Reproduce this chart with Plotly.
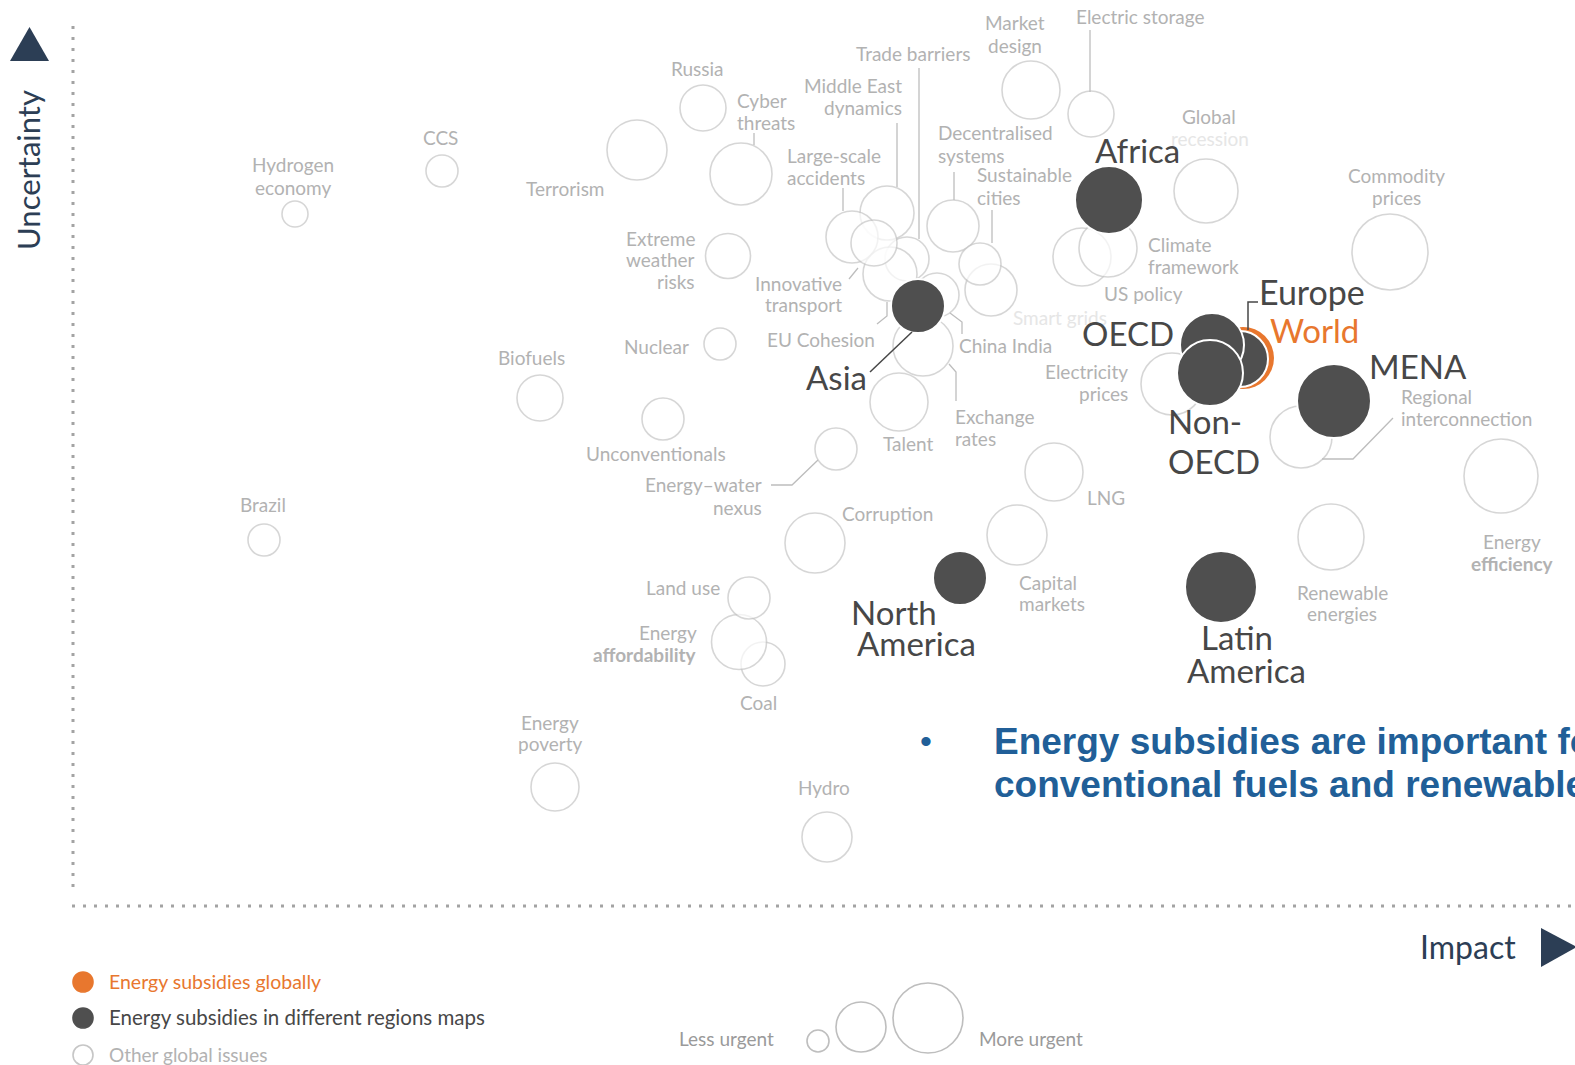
import plotly.graph_objects as go

# ---------------- data ----------------
# Other global issues: impact (x), uncertainty (y), urgency (bubble diameter)
issue_names = [
    "Hydrogen economy", "CCS", "Terrorism", "Russia", "Cyber threats",
    "Extreme weather risks", "Nuclear", "Biofuels", "Unconventionals",
    "Energy–water nexus", "Brazil", "Corruption", "Coal", "Energy affordability",
    "Land use", "Energy poverty", "Hydro", "Market design", "Electric storage",
    "Middle East dynamics", "Trade barriers", "EU Cohesion", "China India",
    "Large-scale accidents", "Innovative transport", "Exchange rates", "Talent",
    "Decentralised systems", "Smart grids", "Sustainable cities",
    "Global recession", "US policy", "Climate framework", "Commodity prices",
    "Electricity prices", "Regional interconnection", "Energy efficiency",
    "LNG", "Capital markets", "Renewable energies",
]
issue_impact = [
    223, 370, 565, 631, 669, 656, 648, 468, 591, 764, 192, 743, 691, 667,
    677, 483, 755, 959, 1019, 815, 835, 818, 865, 780, 802, 851, 827,
    881, 919, 908, 1134, 1010, 1036, 1318, 1100, 1229, 1429, 982, 945, 1259,
]
issue_uncertainty = [
    692, 735, 756, 798, 732, 650, 562, 508, 487, 457, 366, 363, 242, 264,
    308, 119, 69, 816, 792, 693, 647, 632, 611, 669, 663, 560, 504,
    680, 616, 642, 715, 649, 658, 654, 522, 469, 430, 434, 371, 369,
]
issue_urgency = [
    26, 32, 60, 46, 62, 45, 32, 46, 42, 42, 32, 60, 44, 55,
    42, 48, 50, 58, 46, 54, 44, 54, 44, 52, 46, 60, 58,
    52, 52, 42, 64, 58, 58, 76, 62, 62, 74, 58, 60, 66,
]

# Energy subsidies (world + regions)
region_names = ["World", "Europe", "OECD", "Non-OECD", "Asia", "Africa",
                "MENA", "North America", "Latin America"]
region_impact = [1171, 1168, 1140, 1138, 846, 1037, 1262, 888, 1149]
region_uncertainty = [548, 547, 561, 533, 600, 706, 505, 328, 319]
region_urgency = [62, 56, 64, 66, 54, 68, 74, 54, 72]

# Size key
size_key_urgency = [22, 50, 70]

# ---------------- styling / layout helpers ----------------
W, H = 1575, 1065
OX, OY = 72, 906  # pixel position of axes origin


def X(px):
    return px - OX


def Y(py):
    return OY - py


GREY_RING = "#c6c6c6"
GREY_TEXT = "#b2b2b2"
FAINT_TEXT = "#e6e6e6"
DARK = "#4f4f4f"
DARK_TEXT = "#474747"
ORANGE = "#e8772e"
NAVY = "#2c3e55"
BLUE = "#215f98"
FONT = "Lato"

fig = go.Figure()

fig.add_trace(go.Scatter(
    x=issue_impact, y=issue_uncertainty, mode="markers", text=issue_names,
    marker=dict(size=issue_urgency, color="white",
                line=dict(color=GREY_RING, width=1.6)),
    hoverinfo="skip", showlegend=False, cliponaxis=False))

fig.add_trace(go.Scatter(
    x=region_impact, y=region_uncertainty, mode="markers", text=region_names,
    marker=dict(size=region_urgency,
                color=[ORANGE if n == "World" else DARK for n in region_names],
                line=dict(color="white",
                          width=[0 if n == "World" else 2 for n in region_names]),
                opacity=1),
    hoverinfo="skip", showlegend=False, cliponaxis=False))

# legend markers (category key) and size key
fig.add_trace(go.Scatter(
    x=[X(83), X(83), X(83)], y=[Y(982), Y(1018), Y(1055)], mode="markers",
    marker=dict(size=20, color=[ORANGE, DARK, "white"],
                line=dict(color=[ORANGE, DARK, GREY_RING], width=1.6)),
    hoverinfo="skip", showlegend=False, cliponaxis=False))
fig.add_trace(go.Scatter(
    x=[X(818), X(861), X(928)], y=[Y(1041), Y(1027), Y(1018)], mode="markers",
    marker=dict(size=size_key_urgency, color="rgba(0,0,0,0)",
                line=dict(color="#a3a3a3", width=1.6)),
    hoverinfo="skip", showlegend=False, cliponaxis=False))

annotations = []


def label(lines, x, y, anchor="center", step=22, color=GREY_TEXT, size=19,
          bold=(), family=FONT):
    for i, ln in enumerate(lines):
        t = "<b>%s</b>" % ln if i in bold else ln
        annotations.append(dict(
            x=X(x), y=Y(y + i * step), xref="x", yref="y", text=t,
            showarrow=False, xanchor=anchor, yanchor="middle",
            font=dict(family=family, size=size, color=color)))


# grey issue labels
label(["Hydrogen", "economy"], 293, 164, step=23)
label(["CCS"], 440, 137)
label(["Terrorism"], 565, 188)
label(["Russia"], 697, 68)
label(["Cyber", "threats"], 735, 100, "left")
label(["Middle East", "dynamics"], 904, 85, "right")
label(["Trade barriers"], 913, 53)
label(["Market", "design"], 1015, 22, step=23)
label(["Electric storage"], 1140, 16)
label(["Large-scale", "accidents"], 785, 155, "left")
label(["Decentralised", "systems"], 936, 132, "left", step=23)
label(["Sustainable", "cities"], 975, 174, "left", step=23)
label(["Global"], 1209, 116)
label(["recession"], 1210, 138, color=FAINT_TEXT)
label(["Commodity", "prices"], 1396, 175)
label(["Extreme", "weather", "risks"], 697, 238, "right", step=21.5)
label(["Innovative", "transport"], 844, 283, "right", step=21)
label(["EU Cohesion"], 821, 339)
label(["China India"], 1005, 345)
label(["Climate", "framework"], 1146, 244, "left")
label(["US policy"], 1143, 293)
label(["Smart grids"], 1060, 317, color=FAINT_TEXT)
label(["Nuclear"], 656, 346)
label(["Biofuels"], 531, 357)
label(["Electricity", "prices"], 1130, 371, "right")
label(["Exchange", "rates"], 953, 416, "left")
label(["Talent"], 908, 443)
label(["Unconventionals"], 656, 453)
label(["Energy–water", "nexus"], 764, 484, "right", step=23)
label(["Regional", "interconnection"], 1399, 396, "left")
label(["LNG"], 1106, 497)
label(["Brazil"], 263, 504)
label(["Corruption"], 887, 513)
label(["Energy", "efficiency"], 1512, 541, bold=(1,))
label(["Capital", "markets"], 1017, 582, "left", step=21)
label(["Land use"], 722, 587, "right")
label(["Renewable", "energies"], 1342, 592, step=21)
label(["Energy", "affordability"], 699, 632, "right", bold=(1,))
label(["Coal"], 758, 702)
label(["Energy", "poverty"], 550, 722, step=21)
label(["Hydro"], 824, 787)

# region labels
R = dict(color=DARK_TEXT, size=33)
label(["Africa"], 1137, 150, **R)
label(["Asia"], 836, 377, **R)
label(["OECD"], 1128, 333, **R)
label(["Europe"], 1257, 291, "left", color=DARK_TEXT, size=34)
label(["World"], 1268, 330, "left", color=ORANGE, size=33)
label(["MENA"], 1367, 366, "left", **R)
label(["Non-", "OECD"], 1166, 421, "left", step=40, **R)
label(["North"], 849, 612, "left", **R)
label(["America"], 855, 643, "left", **R)
label(["Latin"], 1237, 637, **R)
label(["America"], 1246, 670, **R)

# legend texts
label(["Energy subsidies globally"], 107, 981, "left", color=ORANGE, size=19.5)
label(["Energy subsidies in different regions maps"], 107, 1017, "left",
      color=DARK_TEXT, size=20.5)
label(["Other global issues"], 107, 1054, "left", color=GREY_TEXT, size=19)
label(["Less urgent"], 776, 1038, "right", color="#9a9a9a", size=19)
label(["More urgent"], 977, 1038, "left", color="#9a9a9a", size=19)

# axis titles
label(["Impact"], 1468, 946, color=NAVY, size=32)
annotations.append(dict(
    x=X(28), y=Y(170), xref="x", yref="y", text="Uncertainty", textangle=-90,
    showarrow=False, xanchor="center", yanchor="middle",
    font=dict(family=FONT, size=31, color=NAVY)))

# key message
label(["•"], 926, 741, color=BLUE, size=34, family="Liberation Sans, Arial")
label(["Energy subsidies are important for",
       "conventional fuels and renewables"], 992, 741, "left", step=43,
      color=BLUE, size=37, bold=(0, 1), family="Liberation Sans, Arial")

# ---------------- shapes ----------------
shapes = []


def polyline(pts, color="#bdbdbd", width=1.3):
    path = "M " + " L ".join("%g %g" % (X(a), Y(b)) for a, b in pts)
    shapes.append(dict(type="path", path=path, xref="x", yref="y",
                       line=dict(color=color, width=width)))


leaders = [
    [(754, 133), (754, 145)],
    [(897, 123), (897, 187)],
    [(919, 68), (919, 239)],
    [(1090, 30), (1090, 92)],
    [(843, 188), (843, 211)],
    [(954, 172), (954, 200)],
    [(992, 210), (992, 243)],
    [(849, 279), (858, 268)],
    [(877, 324), (887, 316), (887, 302)],
    [(950, 313), (962, 322), (962, 334)],
    [(949, 364), (956, 372), (956, 401)],
    [(771, 485), (792, 485), (818, 460)],
    [(1393, 418), (1353, 459), (1322, 459)],
]
for pts in leaders:
    polyline(pts)
polyline([(1258, 302), (1248, 302), (1248, 330)], color=DARK_TEXT, width=1.5)
polyline([(870, 372), (912, 332)], color=DARK_TEXT, width=1.5)

# dotted axes
shapes.append(dict(type="line", xref="x", yref="y", x0=X(73), x1=X(73),
                   y0=Y(26), y1=Y(895),
                   line=dict(color="#a3a3a3", width=3, dash="3px,8px")))
shapes.append(dict(type="line", xref="x", yref="y", x0=X(72), x1=X(1575),
                   y0=Y(906), y1=Y(906),
                   line=dict(color="#a3a3a3", width=3, dash="3px,8px")))
# axis arrows
shapes.append(dict(type="path", xref="x", yref="y",
                   path="M %g %g L %g %g L %g %g Z" % (X(10), Y(61), X(49), Y(61), X(29.5), Y(27)),
                   fillcolor=NAVY, line=dict(width=0)))
shapes.append(dict(type="path", xref="x", yref="y",
                   path="M %g %g L %g %g L %g %g Z" % (X(1541), Y(928), X(1541), Y(967), X(1577), Y(947)),
                   fillcolor=NAVY, line=dict(width=0)))

fig.update_layout(
    width=W, height=H, margin=dict(l=0, r=0, t=0, b=0),
    paper_bgcolor="white", plot_bgcolor="white",
    xaxis=dict(range=[X(0), X(W)], visible=False, fixedrange=True),
    yaxis=dict(range=[Y(H), Y(0)], visible=False, fixedrange=True),
    annotations=annotations, shapes=shapes, showlegend=False,
    font=dict(family=FONT),
)

fig.write_html("out.html", config={"displayModeBar": False},
               post_script="document.body.style.margin='0';document.body.style.overflow='hidden';")
